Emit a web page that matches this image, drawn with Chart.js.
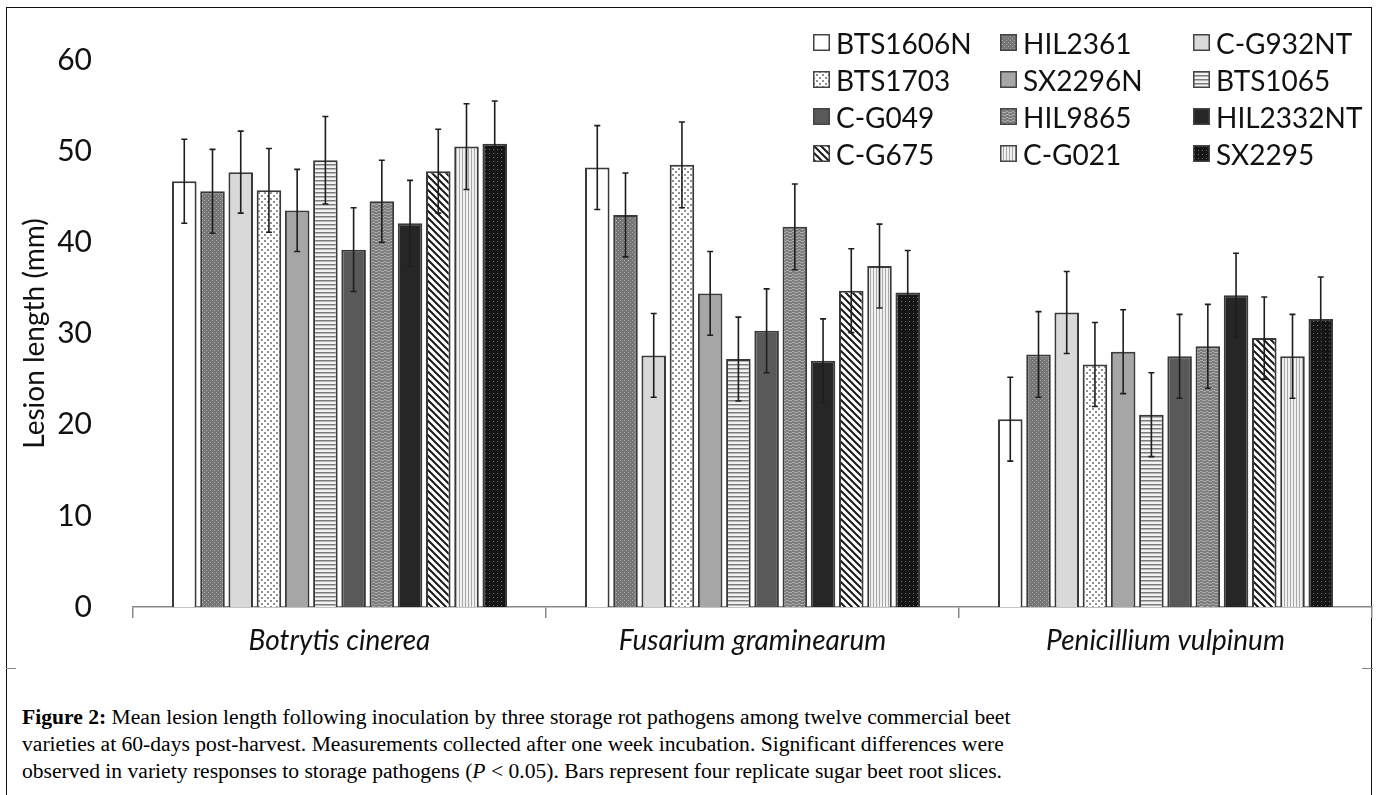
<!DOCTYPE html>
<html>
<head>
<meta charset="utf-8">
<script src="https://cdn.jsdelivr.net/npm/chart.js@4"></script>
<style>
  body { margin: 0; background: #fff; }
  #page { position: relative; width: 1376px; height: 795px; overflow: hidden; background: #fff; }
  #frame { position: absolute; left: 6px; top: 7px; width: 1366px; height: 820px; border: 1.5px solid #111; border-bottom: none; box-sizing: border-box; }
  .sep { position: absolute; top: 668px; height: 1px; background: #888; }
  #chartBox { position: absolute; left: 0; top: 0; width: 1376px; height: 668px; }
  #legend { position: absolute; left: 813px; top: 28px; display: grid; grid-template-columns: 187px 193px 160px; row-gap: 8px; font-family: Lato, sans-serif; font-size: 28px; color: #111; }
  #legend div { display: flex; align-items: center; height: 29px; }
  #legend canvas { width: 17px; height: 17px; margin-right: 6px; }
  #caption { position: absolute; left: 22px; top: 704px; white-space: nowrap; font-family: "Liberation Serif", serif; font-size: 21.6px; line-height: 27px; color: #000; }
</style>
</head>
<body>
<div id="page">
  <div id="frame"></div>
  <div class="sep" style="left:6px;width:10px"></div>
  <div class="sep" style="left:1362px;width:11px"></div>
  <div id="chartBox"><canvas id="chart" width="1376" height="668"></canvas></div>
  <div id="legend"></div>
  <div id="caption"><b>Figure 2:</b> Mean lesion length following inoculation by three storage rot pathogens among twelve commercial beet<br>varieties at 60-days post-harvest. Measurements collected after one week incubation. Significant differences were<br>observed in variety responses to storage pathogens (<i>P</i> &lt; 0.05). Bars represent four replicate sugar beet root slices.</div>
</div>
<script>
const pathogens = ['Botrytis cinerea', 'Fusarium graminearum', 'Penicillium vulpinum'];
const varieties = ['BTS1606N', 'HIL2361', 'C-G932NT', 'BTS1703', 'SX2296N', 'BTS1065',
                   'C-G049', 'HIL9865', 'HIL2332NT', 'C-G675', 'C-G021', 'SX2295'];

// mean lesion length (mm) per variety, one array per pathogen
const botrytis    = [46.7, 45.6, 47.7, 45.7, 43.5, 49.0, 39.2, 44.5, 42.1, 47.8, 50.5, 50.8];
const fusarium    = [48.2, 43.0, 27.6, 48.5, 34.4, 27.2, 30.3, 41.7, 27.0, 34.7, 37.4, 34.5];
const penicillium = [20.6, 27.7, 32.3, 26.6, 28.0, 21.1, 27.5, 28.6, 34.2, 29.5, 27.5, 31.6];

// error bar half-lengths
const botrytisErr    = [4.6, 4.6, 4.5, 4.6, 4.5, 4.8, 4.6, 4.5, 4.7, 4.6, 4.7, 4.7];
const fusariumErr    = [4.6, 4.6, 4.6, 4.7, 4.6, 4.6, 4.6, 4.7, 4.6, 4.6, 4.6, 4.6];
const penicilliumErr = [4.6, 4.7, 4.5, 4.6, 4.6, 4.6, 4.6, 4.6, 4.6, 4.5, 4.6, 4.6];

const yTicks = [0, 10, 20, 30, 40, 50, 60];

// small tiles for the excel-like fill patterns
function tile(w, h, paint) {
  const c = document.createElement('canvas');
  c.width = w; c.height = h;
  paint(c.getContext('2d'), w, h);
  return c;
}
function solid(col) { return tile(2, 2, (g, w, h) => { g.fillStyle = col; g.fillRect(0, 0, w, h); }); }

const tiles = [
  solid('#ffffff'),
  tile(4, 4, (g) => { g.fillStyle = '#767676'; g.fillRect(0, 0, 4, 4); g.fillStyle = '#a8a8a8'; g.fillRect(0, 0, 1, 1); g.fillRect(2, 2, 1, 1); }),
  solid('#d9d9d9'),
  tile(6, 6, (g) => { g.fillStyle = '#ffffff'; g.fillRect(0, 0, 6, 6); g.fillStyle = '#8f8f8f';
    g.fillRect(0, 0, 2, 2); g.fillRect(3, 3, 2, 2); }),
  solid('#a6a6a6'),
  tile(4, 4, (g) => { g.fillStyle = '#f2f2f2'; g.fillRect(0, 0, 4, 4); g.fillStyle = '#7a7a7a'; g.fillRect(0, 0, 4, 1.5); }),
  solid('#595959'),
  tile(6, 6, (g) => { g.fillStyle = '#7c7c7c'; g.fillRect(0, 0, 6, 6); g.fillStyle = '#ababab';
    g.fillRect(0, 0, 3, 1); g.fillRect(3, 1, 3, 1); g.fillRect(0, 3, 2, 1); g.fillRect(2, 4, 4, 1); }),
  solid('#262626'),
  tile(7, 7, (g) => { g.fillStyle = '#ffffff'; g.fillRect(0, 0, 7, 7); g.strokeStyle = '#1a1a1a'; g.lineWidth = 2;
    g.beginPath(); g.moveTo(-1, -1); g.lineTo(8, 8); g.moveTo(-8, -1); g.lineTo(1, 8); g.moveTo(6, -1); g.lineTo(15, 8); g.stroke(); }),
  tile(3, 3, (g) => { g.fillStyle = '#f0f0f0'; g.fillRect(0, 0, 3, 3); g.fillStyle = '#a9a9a9'; g.fillRect(0, 0, 1, 3); }),
  tile(4, 4, (g) => { g.fillStyle = '#151515'; g.fillRect(0, 0, 4, 4); g.fillStyle = '#6e6e6e'; g.fillRect(1, 1, 1, 1); })
];

const mainCtx = document.getElementById('chart').getContext('2d');
const fills = tiles.map(t => mainCtx.createPattern(t, 'repeat'));

const datasets = varieties.map((name, i) => ({
  label: name,
  data: [botrytis[i], fusarium[i], penicillium[i]],
  err: [botrytisErr[i], fusariumErr[i], penicilliumErr[i]],
  backgroundColor: fills[i],
  borderColor: '#3a3a3a',
  borderWidth: 2,
  borderSkipped: 'bottom',
  barPercentage: 0.87,
  categoryPercentage: 0.82
}));

const errorBars = {
  id: 'errorBars',
  afterDatasetsDraw(chart) {
    const ctx = chart.ctx;
    const y = chart.scales.y;
    ctx.save();
    ctx.strokeStyle = '#1e1e1e';
    ctx.lineWidth = 1.6;
    chart.data.datasets.forEach((ds, i) => {
      chart.getDatasetMeta(i).data.forEach((bar, j) => {
        const top = y.getPixelForValue(ds.data[j] + ds.err[j]);
        const bot = y.getPixelForValue(ds.data[j] - ds.err[j]);
        ctx.beginPath();
        ctx.moveTo(bar.x, top); ctx.lineTo(bar.x, bot);
        ctx.moveTo(bar.x - 3, top); ctx.lineTo(bar.x + 3, top);
        ctx.moveTo(bar.x - 3, bot); ctx.lineTo(bar.x + 3, bot);
        ctx.stroke();
      });
    });
    ctx.restore();
  }
};

new Chart(mainCtx, {
  type: 'bar',
  data: { labels: pathogens, datasets: datasets },
  options: {
    responsive: false,
    animation: false,
    layout: { padding: { top: 60, right: 4, left: 0, bottom: 0 } },
    plugins: { legend: { display: false }, tooltip: { enabled: false } },
    scales: {
      x: {
        afterFit(s) { s.height = 61; },
        grid: { drawOnChartArea: false, drawTicks: true, tickLength: 11, tickColor: '#888', lineWidth: 1.5 },
        border: { display: true, color: '#888', width: 1.5 },
        ticks: { color: '#111', padding: 6, font: { family: 'Lato', size: 28, style: 'italic' } }
      },
      y: {
        min: 0, max: 60,
        afterFit(s) { s.width = 133; },
        afterBuildTicks(s) { s.ticks = yTicks.map(v => ({ value: v })); },
        grid: { display: false },
        border: { display: false },
        ticks: { color: '#111', padding: 33, font: { family: 'Lato', size: 30 } },
        title: { display: true, text: 'Lesion length (mm)', color: '#111', padding: { top: 18, bottom: 0 }, font: { family: 'Lato', size: 28 } }
      }
    }
  },
  plugins: [errorBars]
});

// legend grid, 3 columns, row-major like the original
const legend = document.getElementById('legend');
varieties.forEach((name, i) => {
  const item = document.createElement('div');
  const sw = document.createElement('canvas');
  sw.width = 17; sw.height = 17;
  const g = sw.getContext('2d');
  g.fillStyle = g.createPattern(tiles[i], 'repeat');
  g.fillRect(0, 0, 17, 17);
  g.strokeStyle = '#444'; g.lineWidth = 1.5;
  g.strokeRect(0.75, 0.75, 15.5, 15.5);
  item.appendChild(sw);
  item.appendChild(document.createTextNode(name));
  legend.appendChild(item);
});
</script>
</body>
</html>
